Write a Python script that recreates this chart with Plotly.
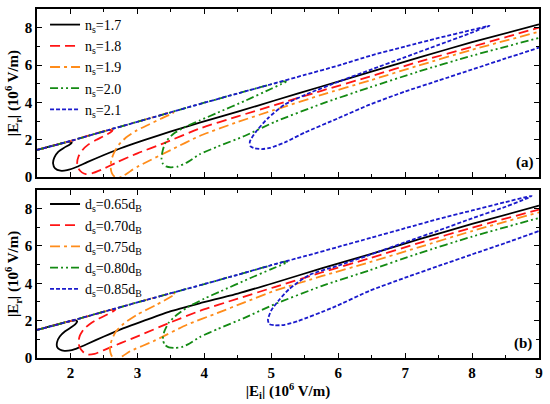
import plotly.graph_objects as go
from plotly.subplots import make_subplots

# ---- panel (a): n_s series, |Er| vs |Ei| (10^6 V/m) ----
a17_x = [1.5, 1.75, 1.9, 2.0, 2.02, 1.98, 1.9, 1.82, 1.76, 1.74, 1.77, 1.85, 1.95, 2.1, 2.25, 2.5, 2.74, 3.1, 3.49, 3.93, 4.5, 5.05, 5.75, 6.47, 7.2, 8.0, 9.0]
a17_y = [1.45, 1.7, 1.83, 1.89, 1.84, 1.72, 1.56, 1.36, 1.05, 0.73, 0.47, 0.34, 0.37, 0.55, 0.8, 1.18, 1.53, 1.98, 2.43, 2.91, 3.5, 4.1, 4.85, 5.62, 6.4, 7.22, 8.18]

a18_x = [1.5, 2.0, 2.4, 2.58, 2.63, 2.6, 2.5, 2.38, 2.27, 2.18, 2.12, 2.1, 2.12, 2.17, 2.23, 2.32, 2.5, 2.7, 3.0, 3.4, 3.93, 4.5, 5.05, 5.75, 6.47, 7.2, 8.0, 9.0]
a18_y = [1.45, 1.93, 2.35, 2.52, 2.5, 2.4, 2.2, 1.98, 1.75, 1.45, 1.1, 0.75, 0.45, 0.25, 0.16, 0.2, 0.45, 0.8, 1.27, 1.82, 2.6, 3.25, 3.85, 4.62, 5.38, 6.17, 6.98, 8.0]

a19_x = [1.5, 2.0, 2.5, 3.0, 3.35, 3.5, 3.54, 3.48, 3.35, 3.18, 2.99, 2.83, 2.72, 2.65, 2.61, 2.6, 2.62, 2.66, 2.72, 2.8, 2.9, 3.0, 3.5, 3.93, 4.5, 5.05, 5.75, 6.47, 7.2, 8.0, 9.0]
a19_y = [1.45, 1.93, 2.45, 2.96, 3.32, 3.47, 3.46, 3.34, 3.12, 2.83, 2.5, 2.12, 1.72, 1.3, 0.9, 0.5, 0.2, 0.02, -0.05, 0.08, 0.33, 0.55, 1.45, 2.2, 2.95, 3.6, 4.4, 5.17, 5.97, 6.82, 7.78]

a20_x = [1.5, 2.0, 2.5, 3.0, 3.5, 4.0, 4.5, 5.0, 5.18, 5.22, 5.15, 5.0, 4.6, 4.2, 3.93, 3.7, 3.54, 3.43, 3.38, 3.36, 3.38, 3.43, 3.5, 3.6, 3.75, 3.93, 4.19, 4.6, 5.05, 5.75, 6.47, 7.2, 8.0, 9.0]
a20_y = [1.45, 1.93, 2.45, 2.96, 3.47, 3.98, 4.48, 4.97, 5.12, 5.1, 4.98, 4.73, 4.07, 3.45, 3.03, 2.66, 2.32, 1.92, 1.45, 1.0, 0.72, 0.57, 0.52, 0.56, 0.8, 1.22, 1.62, 2.2, 2.95, 3.92, 4.8, 5.65, 6.5, 7.45]

a21_x = [1.5, 2.0, 2.5, 3.0, 3.5, 4.0, 4.5, 5.0, 5.5, 6.0, 6.5, 7.0, 7.5, 8.0, 8.2, 8.26, 8.2, 8.0, 7.5, 7.0, 6.47, 6.0, 5.57, 5.2, 4.95, 4.77, 4.68, 4.69, 4.76, 4.86, 4.98, 5.2, 5.5, 6.0, 6.47, 7.0, 7.5, 8.0, 8.5, 9.0]
a21_y = [1.45, 1.93, 2.45, 2.96, 3.47, 3.98, 4.48, 4.97, 5.47, 5.97, 6.52, 6.99, 7.45, 7.88, 8.06, 8.1, 8.03, 7.74, 7.08, 6.42, 5.73, 5.1, 4.5, 3.88, 3.15, 2.42, 1.9, 1.65, 1.53, 1.5, 1.56, 1.85, 2.38, 3.15, 3.88, 4.58, 5.17, 5.76, 6.35, 6.93]

# ---- panel (b): d_s series ----
b65_x = [1.5, 1.8, 1.98, 2.08, 2.1, 2.07, 2.0, 1.92, 1.84, 1.8, 1.8, 1.84, 1.91, 2.02, 2.12, 2.25, 2.5, 2.74, 3.1, 3.49, 3.93, 4.5, 5.05, 5.75, 6.47, 7.2, 8.0, 9.0]
b65_y = [1.5, 1.8, 1.96, 2.02, 1.96, 1.8, 1.62, 1.43, 1.15, 0.85, 0.6, 0.45, 0.38, 0.42, 0.55, 0.75, 1.15, 1.52, 2.0, 2.5, 2.93, 3.45, 4.03, 4.8, 5.55, 6.35, 7.18, 8.16]

b70_x = [1.5, 2.0, 2.4, 2.6, 2.67, 2.64, 2.55, 2.42, 2.3, 2.2, 2.14, 2.12, 2.14, 2.19, 2.26, 2.36, 2.5, 2.75, 3.0, 3.49, 3.93, 4.5, 5.05, 5.75, 6.47, 7.2, 8.0, 9.0]
b70_y = [1.5, 1.98, 2.38, 2.57, 2.6, 2.5, 2.33, 2.1, 1.85, 1.55, 1.2, 0.85, 0.55, 0.32, 0.18, 0.22, 0.42, 0.8, 1.16, 1.9, 2.52, 3.18, 3.8, 4.58, 5.34, 6.15, 6.98, 7.95]

b75_x = [1.5, 2.0, 2.5, 3.0, 3.4, 3.53, 3.57, 3.5, 3.29, 3.0, 2.8, 2.68, 2.62, 2.59, 2.6, 2.63, 2.69, 2.78, 2.89, 3.24, 3.74, 4.19, 4.6, 5.05, 5.75, 6.47, 7.2, 8.0, 9.0]
b75_y = [1.5, 1.98, 2.48, 2.98, 3.37, 3.47, 3.43, 3.28, 2.86, 2.33, 1.85, 1.42, 1.0, 0.6, 0.25, 0.03, -0.05, 0.1, 0.36, 0.9, 1.78, 2.4, 2.98, 3.6, 4.38, 5.13, 5.93, 6.8, 7.8]

b80_x = [1.5, 2.0, 2.5, 3.0, 3.5, 4.0, 4.5, 5.0, 5.2, 5.25, 5.18, 5.0, 4.68, 4.23, 4.0, 3.75, 3.59, 3.47, 3.4, 3.38, 3.41, 3.47, 3.56, 3.66, 3.78, 3.93, 4.2, 4.6, 5.05, 5.75, 6.47, 7.2, 8.0, 9.0]
b80_y = [1.5, 1.98, 2.48, 2.98, 3.47, 3.96, 4.46, 4.97, 5.16, 5.15, 5.03, 4.76, 4.27, 3.55, 3.18, 2.72, 2.32, 1.9, 1.4, 1.0, 0.7, 0.57, 0.54, 0.58, 0.78, 1.12, 1.55, 2.15, 2.88, 3.85, 4.7, 5.6, 6.5, 7.5]

b85_x = [1.5, 2.0, 2.5, 3.0, 3.5, 4.0, 4.5, 5.0, 5.5, 6.0, 6.5, 7.0, 7.5, 8.0, 8.5, 8.8, 8.89, 8.82, 8.5, 8.0, 7.5, 7.0, 6.47, 6.0, 5.57, 5.27, 5.12, 5.0, 4.95, 4.97, 5.05, 5.2, 5.4, 5.92, 6.47, 7.0, 7.5, 8.0, 8.5, 9.0]
b85_y = [1.5, 1.98, 2.48, 2.98, 3.47, 3.96, 4.46, 4.97, 5.45, 5.95, 6.45, 6.95, 7.45, 7.9, 8.35, 8.62, 8.68, 8.55, 8.1, 7.48, 6.83, 6.2, 5.52, 4.95, 4.45, 3.7, 3.12, 2.55, 2.05, 1.82, 1.75, 1.78, 1.98, 2.7, 3.6, 4.3, 4.93, 5.55, 6.16, 6.8]

names_a = ["n<sub>s</sub>=1.7", "n<sub>s</sub>=1.8", "n<sub>s</sub>=1.9", "n<sub>s</sub>=2.0", "n<sub>s</sub>=2.1"]
names_b = ["d<sub>s</sub>=0.65d<sub>B</sub>", "d<sub>s</sub>=0.70d<sub>B</sub>", "d<sub>s</sub>=0.75d<sub>B</sub>",
           "d<sub>s</sub>=0.80d<sub>B</sub>", "d<sub>s</sub>=0.85d<sub>B</sub>"]

colors = ["#000000", "#ff1414", "#ff8c1a", "#138a13", "#1a1acc"]
dashes = ["solid", "10px,5px", "10px,4px,3px,4px", "8px,3px,2px,3px,2px,3px", "4px,2px"]

FONT = "Liberation Serif, Times New Roman, serif"

fig = make_subplots(rows=2, cols=1, shared_xaxes=True, vertical_spacing=0.037)

series_a = [(a17_x, a17_y), (a18_x, a18_y), (a19_x, a19_y), (a20_x, a20_y), (a21_x, a21_y)]
series_b = [(b65_x, b65_y), (b70_x, b70_y), (b75_x, b75_y), (b80_x, b80_y), (b85_x, b85_y)]

for i, (xs, ys) in enumerate(series_a):
    fig.add_trace(go.Scatter(x=xs, y=ys, mode="lines", name=names_a[i], legend="legend",
                             line=dict(color=colors[i], width=1.8, dash=dashes[i],
                                       shape="spline", smoothing=0.6)), row=1, col=1)
for i, (xs, ys) in enumerate(series_b):
    fig.add_trace(go.Scatter(x=xs, y=ys, mode="lines", name=names_b[i], legend="legend2",
                             line=dict(color=colors[i], width=1.8, dash=dashes[i],
                                       shape="spline", smoothing=0.6)), row=2, col=1)

axis_common = dict(showline=True, linecolor="black", linewidth=1.5, mirror="ticks",
                   ticks="inside", ticklen=5, tickwidth=1.2, tickcolor="black",
                   showgrid=False, zeroline=False, automargin=False,
                   tickfont=dict(family=FONT, size=15, color="black", weight="bold"))

fig.update_xaxes(range=[1.5, 9], dtick=1, tick0=0,
                 minor=dict(dtick=0.5, ticks="inside", ticklen=3, tickcolor="black"),
                 **axis_common)
fig.update_xaxes(showticklabels=False, row=1, col=1)
fig.update_xaxes(title=dict(text="<b>|E<sub>i</sub>| (10<sup>6</sup> V/m)</b>", standoff=0,
                            font=dict(family=FONT, size=15, color="black")), row=2, col=1)

ytitle = "<b>|E<sub>r</sub>| (10<sup>6</sup> V/m)</b>"
fig.update_yaxes(range=[0, 9], dtick=2, tick0=0,
                 minor=dict(dtick=1, ticks="inside", ticklen=3, tickcolor="black"),
                 title=dict(text=ytitle, standoff=2, font=dict(family=FONT, size=15, color="black")),
                 **axis_common)

legend_style = dict(font=dict(family=FONT, size=14, color="black"), bgcolor="rgba(0,0,0,0)",
                    borderwidth=0, xanchor="left", yanchor="top", tracegroupgap=0)
fig.update_layout(
    width=550, height=404,
    margin=dict(l=37, r=11, t=9, b=46),
    plot_bgcolor="white", paper_bgcolor="white",
    font=dict(family=FONT, size=15, color="black"),
    legend=dict(x=0.016, y=1.0, **legend_style),
    legend2=dict(x=0.016, y=0.486, **legend_style),
)

fig.add_annotation(text="<b>(a)</b>", xref="paper", yref="paper", x=0.995, y=0.53,
                   xanchor="right", yanchor="bottom", showarrow=False,
                   font=dict(family=FONT, size=15, color="black"))
fig.add_annotation(text="<b>(b)</b>", xref="paper", yref="paper", x=0.99, y=0.012,
                   xanchor="right", yanchor="bottom", showarrow=False,
                   font=dict(family=FONT, size=15, color="black"))

# page body has a default 8px margin; drop it so the 550x404 figure fills the window
fig.write_html("out.html", config={"displayModeBar": False},
               post_script="document.body.style.margin='0px';document.body.style.overflow='hidden';")
